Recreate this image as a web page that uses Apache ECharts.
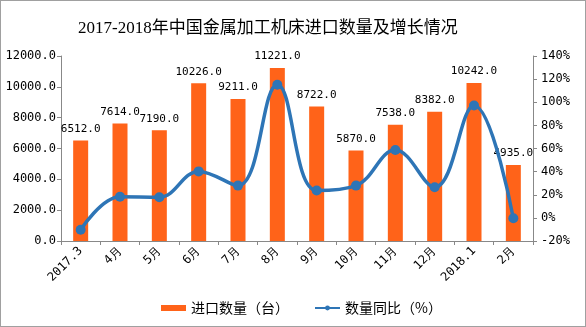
<!DOCTYPE html>
<html><head><meta charset="utf-8">
<script src="https://cdn.jsdelivr.net/npm/echarts@6/dist/echarts.min.js"></script>
<style>
html,body{margin:0;padding:0;background:#fff;}
#c{width:586px;height:327px;box-sizing:border-box;border:1px solid #a0a0a0;}
</style></head><body>
<div id="c"></div>
<script>
var categories = ['2017.3','4月','5月','6月','7月','8月','9月','10月','11月','12月','2018.1','2月'];
var importQty = [6512, 7614, 7190, 10226, 9211, 11221, 8722, 5870, 7538, 8382, 10242, 4935];
var yoyPct = [-10.3, 18.2, 17.9, 40.2, 27.9, 115.2, 23.6, 27.9, 58.7, 26.5, 97.2, -0.3];
var leftTicks = {min: 0, max: 12000, interval: 2000};
var rightTicks = {min: -20, max: 140, interval: 20};

var mono = 'DejaVu Sans Mono';
var chart = echarts.init(document.getElementById('c'));
chart.setOption({
  animation: false,
  title: {
    text: '2017-2018年中国金属加工机床进口数量及增长情况',
    left: 72, top: 14,
    textStyle: {fontFamily: 'Liberation Serif, Noto Sans CJK SC', fontSize: 17, fontWeight: 'normal', color: '#000'}
  },
  legend: {
    bottom: 6, left: 155,
    itemWidth: 25, itemHeight: 6, itemGap: 25,
    textStyle: {fontFamily: 'Noto Sans CJK SC', fontSize: 14, color: '#000'},
    data: [{name: '进口数量（台）', icon: 'rect'}, {name: '数量同比（%）'}]
  },
  grid: {left: 60, right: 52, top: 55, bottom: 85},
  xAxis: {
    type: 'category', data: categories,
    axisLine: {lineStyle: {color: '#888'}},
    axisTick: {show: true, lineStyle: {color: '#888'}, length: 4},
    axisLabel: {rotate: 45, color: '#000', fontFamily: mono, fontSize: 12, margin: 8}
  },
  yAxis: [{
    type: 'value', min: leftTicks.min, max: leftTicks.max, interval: leftTicks.interval,
    splitLine: {show: false},
    axisLine: {show: true, lineStyle: {color: '#888'}},
    axisTick: {show: true, lineStyle: {color: '#888'}, length: 4},
    axisLabel: {color: '#000', fontFamily: mono, fontSize: 12, margin: 5,
      formatter: function (v) { return v.toFixed(1); }}
  }, {
    type: 'value', min: rightTicks.min, max: rightTicks.max, interval: rightTicks.interval,
    splitLine: {show: false},
    axisLine: {show: true, lineStyle: {color: '#888'}},
    axisTick: {show: true, lineStyle: {color: '#888'}, length: 4},
    axisLabel: {color: '#000', fontFamily: mono, fontSize: 12, margin: 8,
      formatter: function (v) { return v + '%'; }}
  }],
  series: [{
    name: '进口数量（台）', type: 'bar', data: importQty, barWidth: 15,
    itemStyle: {color: '#FF6319'},
    label: {show: true, position: 'top', distance: 6, color: '#000', fontFamily: mono, fontSize: 11,
      formatter: function (p) { return p.value.toFixed(1); }}
  }, {
    name: '数量同比（%）', type: 'line', yAxisIndex: 1, data: yoyPct, smooth: 0.4,
    symbol: 'circle', symbolSize: 10,
    lineStyle: {color: '#2E75B6', width: 3.5},
    itemStyle: {color: '#2E75B6'}
  }]
});
</script>
</body></html>
